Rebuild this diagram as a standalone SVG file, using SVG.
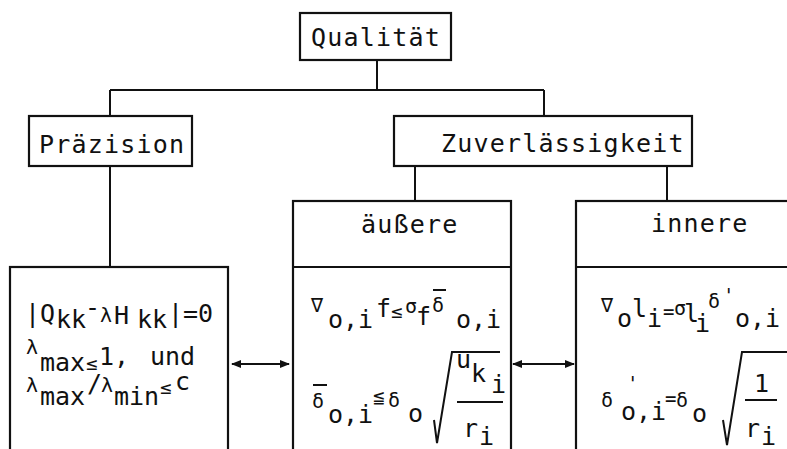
<svg xmlns="http://www.w3.org/2000/svg" width="787" height="449" viewBox="0 0 787 449">
<defs>
<marker id="ah" viewBox="0 0 10 10" refX="9" refY="5" markerWidth="10" markerHeight="10" markerUnits="userSpaceOnUse" orient="auto-start-reverse">
<path d="M0,1 L10,5 L0,9 z" fill="#111"/>
</marker>
<style>
.box{fill:#fff;stroke:#111;stroke-width:2.2}
.ln{fill:none;stroke:#111;stroke-width:2}
.t{font-family:"DejaVu Sans Mono","Liberation Mono",monospace;font-size:25px;letter-spacing:1.2px;fill:#111}
.f{font-family:"DejaVu Sans Mono","Liberation Mono",monospace;font-size:25px;fill:#111}
.g{font-size:20px}
.s{font-size:19px}
</style>
</defs>
<rect width="787" height="449" fill="#fff"/>
<g id="connectors">
<path class="ln" d="M377,60 V90 M110,90 H544 M110,90 V116 M544,90 V116 M110,166 V267 M415,166 V201 M667,166 V201"/>
<path class="ln" d="M232,364 H289" marker-start="url(#ah)" marker-end="url(#ah)"/>
<path class="ln" d="M513,364 H574" marker-start="url(#ah)" marker-end="url(#ah)"/>
</g>
<g id="qualitaet">
<rect class="box" x="300" y="13" width="151" height="47"/>
<text class="t" x="311" y="46">Qualität</text>
</g>
<g id="praezision">
<rect class="box" x="29" y="116" width="163" height="50"/>
<text class="t" x="39" y="153">Präzision</text>
</g>
<g id="zuverlaessigkeit">
<rect class="box" x="394" y="116" width="298" height="50"/>
<text class="t" x="441" y="152">Zuverlässigkeit</text>
</g>
<g id="aeussere">
<rect class="box" x="293" y="201" width="218" height="260"/>
<line class="ln" x1="293" y1="267" x2="511" y2="267"/>
<text class="t" x="361" y="233">äußere</text>
</g>
<g id="innere">
<rect class="box" x="576" y="201" width="230" height="260"/>
<line class="ln" x1="576" y1="267" x2="800" y2="267"/>
<text class="t" x="651" y="232">innere</text>
</g>
<g id="praezision-formeln">
<rect class="box" x="10" y="267" width="218" height="200"/>
<text class="f">
<tspan x="25" y="322">|Q</tspan><tspan x="56" y="328">kk</tspan><tspan x="85" y="316">-</tspan><tspan class="g" x="100" y="322">λ</tspan><tspan x="114" y="324">H</tspan><tspan x="137" y="328">kk</tspan><tspan x="168" y="322">|=0</tspan>
</text>
<text class="f">
<tspan class="g" x="26" y="354">λ</tspan><tspan x="40" y="371">max</tspan><tspan class="s" x="86" y="370">≤</tspan><tspan x="99" y="365">1,</tspan><tspan x="150" y="365">und</tspan>
</text>
<text class="f">
<tspan class="g" x="26" y="392">λ</tspan><tspan x="40" y="405">max</tspan><tspan x="87" y="392">/</tspan><tspan class="g" x="101" y="392">λ</tspan><tspan x="114" y="405">min</tspan><tspan class="s" x="160" y="394">≤</tspan><tspan x="175" y="390">c</tspan>
</text>
</g>
<g id="aeussere-formeln">
<text class="f">
<tspan class="g" x="311" y="312">∇</tspan><tspan x="328" y="328">o,i</tspan><tspan x="376" y="317">f</tspan><tspan class="s" x="391" y="318">≤</tspan><tspan class="g" x="405" y="313">σ</tspan><tspan x="416" y="325">f</tspan><tspan class="g" x="432" y="312">δ</tspan><tspan x="456" y="328">o,i</tspan>
</text>
<line class="ln" x1="433" y1="290" x2="446" y2="290"/>
<text class="f">
<tspan class="g" x="312" y="408">δ</tspan><tspan x="328" y="423">o,i</tspan><tspan class="s" x="373" y="403">≦</tspan><tspan class="g" x="388" y="407">δ</tspan><tspan x="408" y="422">o</tspan>
</text>
<line class="ln" x1="313" y1="385" x2="327" y2="385"/>
<path class="ln" d="M434,420 L437,443 L452,352 H500"/>
<text class="f">
<tspan x="456" y="368">u</tspan><tspan x="471" y="382">k</tspan><tspan x="491" y="393">i</tspan>
<tspan x="463" y="437">r</tspan><tspan x="479" y="445">i</tspan>
</text>
<line class="ln" x1="457" y1="402" x2="503" y2="402"/>
</g>
<g id="innere-formeln">
<text class="f">
<tspan class="g" x="601" y="312">∇</tspan><tspan x="617" y="327">o</tspan><tspan x="632" y="317">l</tspan><tspan x="647" y="327">i</tspan><tspan class="s" x="663" y="318">=</tspan><tspan class="g" x="674" y="315">σ</tspan><tspan x="684" y="322">l</tspan><tspan x="695" y="332">i</tspan><tspan class="g" x="708" y="308">δ</tspan><tspan class="s" x="723" y="302">'</tspan><tspan x="735" y="327">o,i</tspan>
</text>
<text class="f">
<tspan class="g" x="601" y="407">δ</tspan><tspan class="s" x="627" y="390">'</tspan><tspan x="621" y="420">o,i</tspan><tspan class="s" x="665" y="405">=</tspan><tspan class="g" x="676" y="407">δ</tspan><tspan x="692" y="422">o</tspan>
</text>
<path class="ln" d="M723,420 L727,445 L742,352 H790"/>
<text class="f">
<tspan x="754" y="392">1</tspan>
<tspan x="745" y="437">r</tspan><tspan x="761" y="445">i</tspan>
</text>
<line class="ln" x1="745" y1="400" x2="777" y2="400"/>
</g>
</svg>
